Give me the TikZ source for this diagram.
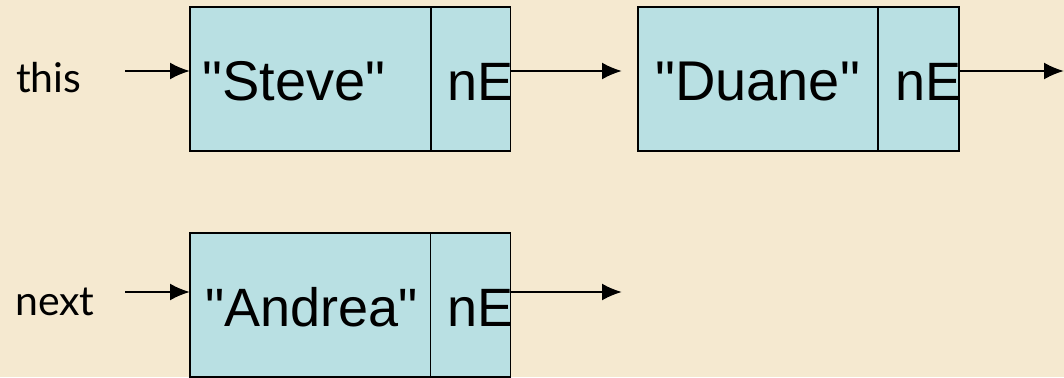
\documentclass[tikz,border=0pt]{standalone}
\usepackage{fontspec}
\setmainfont{Liberation Sans}
\newfontfamily\labelfont{Lato}
\usetikzlibrary{arrows.meta}
\definecolor{paper}{RGB}{245,233,208}
\definecolor{cell}{RGB}{185,224,227}
\newcommand{\sq}{\textquotedbl}

\begin{document}
\begin{tikzpicture}[x=1pt,y=-1pt,
  cellbox/.style={draw=black, line width=1.8pt, fill=cell, minimum height=144pt,
    inner sep=0pt, outer sep=0pt, anchor=north west},
  datatext/.style={font=\fontsize{56}{62}\selectfont, inner sep=0pt, anchor=base west},
  ptrtext/.style={font=\fontsize{54}{60}\selectfont, inner sep=0pt, anchor=base west},
  reftext/.style={font=\labelfont\fontsize{41}{46}\selectfont, inner sep=0pt, anchor=base west},
  link/.style={line width=2.2pt, -{Latex[length=20pt,width=17pt]}}]

% page background and frame
\fill[paper] (0,0) rectangle (1064,377);
\clip (0,0) rectangle (1064,377);

% first list: "Steve" -> "Duane" ->
\node[cellbox, minimum width=241pt] (s1) at (190,7) {};
\node[cellbox, minimum width=79.5pt] (p1) at (431,7) {};
\node[cellbox, minimum width=240pt] (s2) at (638,7) {};
\node[cellbox, minimum width=81pt] (p2) at (878,7) {};

% second list: "Andrea" ->
\node[cellbox, minimum width=240.5pt] (s3) at (190,233) {};
\node[cellbox, minimum width=80pt] (p3) at (430.5,233) {};

% cell contents
\node[datatext] (v1) at (202,100) {\sq Steve\sq};
\node[ptrtext] (n1) at (447,100) {nE};
\node[datatext] (v2) at (655,100) {\sq Duane\sq};
\node[ptrtext] (n2) at (895,100) {nE};
\node[datatext, font=\fontsize{54}{60}\selectfont] (v3) at (205,326) {\sq Andrea\sq};
\node[ptrtext] (n3) at (447,326) {nE};

% reference names
\node[reftext] (this) at (16,93) {this};
\node[reftext] (next) at (15,315) {next};

% arrow ends
\coordinate (r1) at (125,71);
\coordinate (r2) at (622,71);
\coordinate (r3) at (1064,71);
\coordinate (r4) at (125,292);
\coordinate (r5) at (622,292);

% connectors
\draw[link] (r1) -- (r1 -| s1.west);
\draw[link] (p1.east |- r2) -- (r2);
\draw[link] (p2.east |- r3) -- (r3);
\draw[link] (r4) -- (r4 -| s3.west);
\draw[link] (p3.east |- r5) -- (r5);
\end{tikzpicture}
\end{document}
